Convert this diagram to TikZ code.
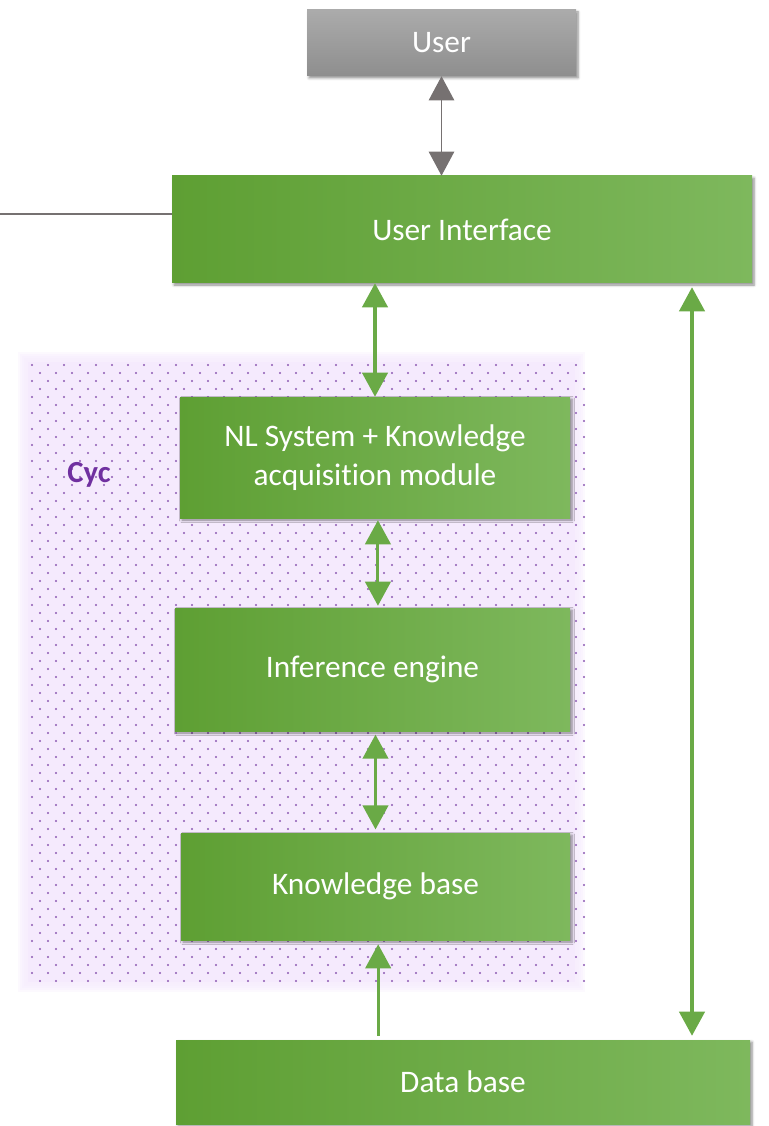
\documentclass[tikz,border=0pt]{standalone}
\usepackage{fontspec}
\setmainfont[Ligatures=NoCommon]{Carlito}
\definecolor{BoxGreenLeft}{HTML}{5E9F33}
\definecolor{BoxGreenRight}{HTML}{7EB85D}
\definecolor{BoxGrayTop}{HTML}{ABABAB}
\definecolor{BoxGrayBottom}{HTML}{8E8E8E}
\definecolor{LinkGreen}{HTML}{6AAA46}
\definecolor{LinkGray}{HTML}{767171}
\definecolor{CycFill}{HTML}{F5EAFD}
\definecolor{CycDot}{HTML}{7030A0}
\usetikzlibrary{arrows.meta, shadows.blur}
\tikzset{
    green box/.style={
        left color=BoxGreenLeft, right color=BoxGreenRight, draw=none,
        text=white, align=center, font=\fontsize{23.5pt}{29pt}\selectfont,
        blur shadow={shadow xshift=1.5pt, shadow yshift=-1.5pt,
            shadow blur steps=6, shadow opacity=45}
    },
    gray box/.style={
        top color=BoxGrayTop, bottom color=BoxGrayBottom, draw=none,
        text=white, font=\fontsize{23.5pt}{29pt}\selectfont,
        blur shadow={shadow xshift=1.5pt, shadow yshift=-1.5pt,
            shadow blur steps=6, shadow opacity=45}
    },
    green link/.style={
        draw=LinkGreen, line width=2.3pt,
        {Triangle[width=19pt, length=18pt]}-{Triangle[width=19pt, length=18pt]}
    },
    green feed/.style={
        draw=LinkGreen, line width=2.3pt,
        -{Triangle[width=19pt, length=18pt]}
    },
    gray link/.style={
        draw=LinkGray, line width=1.1pt,
        {Triangle[width=19pt, length=18pt]}-{Triangle[width=19pt, length=18pt]}
    }
}

\begin{document}
\begin{tikzpicture}[x=0.75pt, y=-0.75pt]
\useasboundingbox (0,0) rectangle (768,1126);

% Zona de Cyc: borde difuso, relleno y puntos.
\foreach \d in {10,8,6,4,2}
    \fill[CycFill, fill opacity=0.3] (28-\d,362-\d) rectangle (575+\d,982+\d);
\fill[CycFill] (28,362) rectangle (575,982);
\foreach \r in {0,...,77}{
    \pgfmathsetmacro\off{mod(\r,2)*8}
    \foreach \c in {0,...,34}
        \fill[CycDot!80] (32+\off+16*\c, 365+8*\r) circle (0.85pt);
}
\node (cyc) at (89,475) {\fontsize{23pt}{27pt}\selectfont\bfseries\color{CycDot}Cyc};

% Cajas.
\node[gray box, minimum width=269*0.75pt, minimum height=66*0.75pt] (user) at (441.5,43) {User};
\node[green box, minimum width=580*0.75pt, minimum height=107*0.75pt] (ui) at (462,229.5) {User Interface};
\node[green box, minimum width=390*0.75pt, minimum height=121*0.75pt] (nl) at (375,457.5)
    {NL System + Knowledge\\acquisition module};
\node[green box, minimum width=395*0.75pt, minimum height=123*0.75pt] (inf) at (372.5,669.5) {Inference engine};
\node[green box, minimum width=389*0.75pt, minimum height=107*0.75pt] (kb) at (375.5,886.5) {Knowledge base};
\node[green box, minimum width=574*0.75pt, minimum height=84*0.75pt] (db) at (463,1082) {Data base};

% Puntos auxiliares para las flechas.
\coordinate (rail) at (692,0);
\coordinate (margin) at (0,214);

% Flechas entre cajas.
\draw[gray link] (user.south) -- (user.south |- ui.north);
\draw[green link] (ui.south -| nl.north) -- (nl.north);
\draw[green link, shorten <=1.5pt, shorten >=1.5pt] ([xshift=2.2pt]nl.south) -- ([xshift=2.2pt]nl.south |- inf.north);
\draw[green link, shorten <=2.5pt, shorten >=2.5pt] (inf.south -| kb.north) -- (kb.north);
\draw[green feed, shorten >=3pt, shorten <=3pt] ([xshift=2pt]kb.south |- db.north) -- ([xshift=2pt]kb.south);
\draw[green link, shorten <=3pt, shorten >=3pt] (ui.south -| rail) -- (db.north -| rail);

% Linea que sale por la izquierda.
\draw[LinkGray, line width=0.8pt] (margin) -- (margin -| ui.west);

\end{tikzpicture}
\end{document}
